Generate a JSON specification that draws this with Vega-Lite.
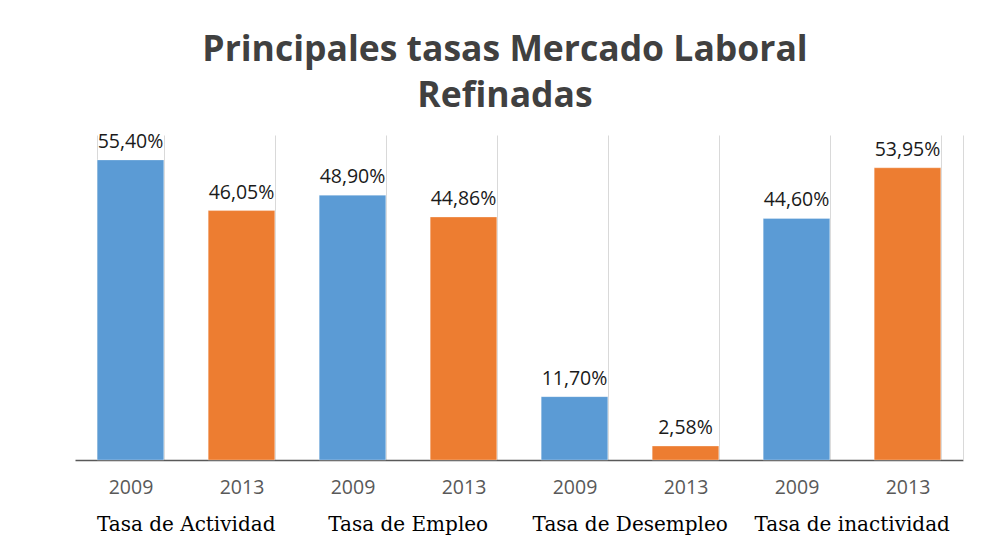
{
  "$schema": "https://vega.github.io/schema/vega-lite/v6.json",
  "width": 888,
  "height": 325,
  "autosize": {"type": "none"},
  "padding": {"left": 75, "top": 135, "right": 26, "bottom": 99},
  "background": "white",
  "config": {
    "locale": {"number": {"decimal": ",", "thousands": ".", "grouping": [3], "currency": ["", " €"]}},
    "view": {"stroke": null}
  },
  "title": {
    "text": ["Principales tasas Mercado Laboral", "Refinadas"],
    "font": "Open Sans",
    "fontSize": 35.5,
    "fontWeight": "bold",
    "color": "#404040",
    "anchor": "middle",
    "frame": "group",
    "dx": -14,
    "offset": 17,
    "lineHeight": 46
  },
  "data": {
    "values": [
      {"key": "Tasa de Actividad|2009", "grupo": "Tasa de Actividad", "anio": "2009", "tasa": 0.554},
      {"key": "Tasa de Actividad|2013", "grupo": "Tasa de Actividad", "anio": "2013", "tasa": 0.4605},
      {"key": "Tasa de Empleo|2009", "grupo": "Tasa de Empleo", "anio": "2009", "tasa": 0.489},
      {"key": "Tasa de Empleo|2013", "grupo": "Tasa de Empleo", "anio": "2013", "tasa": 0.4486},
      {"key": "Tasa de Desempleo|2009", "grupo": "Tasa de Desempleo", "anio": "2009", "tasa": 0.117},
      {"key": "Tasa de Desempleo|2013", "grupo": "Tasa de Desempleo", "anio": "2013", "tasa": 0.0258},
      {"key": "Tasa de inactividad|2009", "grupo": "Tasa de inactividad", "anio": "2009", "tasa": 0.446},
      {"key": "Tasa de inactividad|2013", "grupo": "Tasa de inactividad", "anio": "2013", "tasa": 0.5395}
    ]
  },
  "encoding": {
    "x": {
      "field": "key",
      "type": "nominal",
      "sort": null,
      "scale": {"paddingInner": 0.4, "paddingOuter": 0.2},
      "axis": {
        "title": null,
        "labelAngle": 0,
        "labelExpr": "split(datum.label, '|')[1]",
        "labelFont": "Open Sans",
        "labelFontSize": 19.5,
        "labelColor": "#595959",
        "labelPadding": 18,
        "ticks": false,
        "tickBand": "extent",
        "grid": true,
        "gridColor": "#d9d9d9",
        "gridWidth": 1,
        "domainColor": "#595959",
        "domainWidth": 1.5
      }
    },
    "y": {
      "field": "tasa",
      "type": "quantitative",
      "scale": {"domain": [0, 0.6], "nice": false},
      "axis": {
        "orient": "right",
        "title": null,
        "labels": false,
        "ticks": false,
        "grid": false,
        "domain": true,
        "domainColor": "#d9d9d9",
        "domainWidth": 1
      }
    }
  },
  "layer": [
    {
      "mark": {"type": "bar", "stroke": "#ffffff", "strokeOpacity": 0.3, "strokeWidth": 1},
      "encoding": {
        "color": {
          "field": "anio",
          "type": "nominal",
          "scale": {"domain": ["2009", "2013"], "range": ["#5B9BD5", "#ED7D31"]},
          "legend": null
        }
      }
    },
    {
      "mark": {"type": "text", "baseline": "bottom", "dy": -8, "font": "Open Sans", "fontSize": 19.5, "color": "#1a1a1a"},
      "encoding": {
        "text": {"field": "tasa", "type": "quantitative", "format": ".2%"}
      }
    },
    {
      "transform": [{"filter": "datum.anio == '2013'"}],
      "mark": {"type": "text", "baseline": "middle", "align": "center", "dy": 65, "font": "DejaVu Serif", "fontSize": 20, "color": "#000000"},
      "encoding": {
        "x": {"field": "key", "type": "nominal", "sort": null, "bandPosition": -0.33},
        "y": {"datum": 0},
        "text": {"field": "grupo", "type": "nominal"}
      }
    }
  ]
}
